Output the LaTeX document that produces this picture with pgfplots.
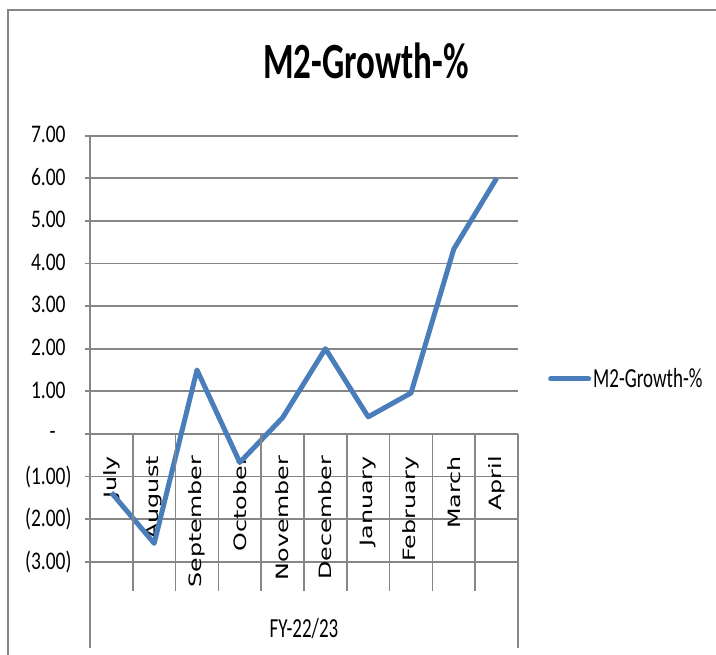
\documentclass[border=0pt]{standalone}
\usepackage{pgfplots}
\pgfplotsset{compat=1.18}
\usepackage{fontspec}
\setmainfont{Carlito}
\newfontfamily\dejavu{DejaVu Sans}
\definecolor{series}{HTML}{4A7EBB}
\definecolor{gridc}{HTML}{868686}
\newcommand\sy[2][1.4]{\scalebox{1}[#1]{#2}}
\newcommand\cl[1]{\scalebox{1}[1.4]{\rotatebox{90}{\dejavu\fontsize{17bp}{18bp}\selectfont #1}}}
\begin{document}
\begin{tikzpicture}[x=1bp,y=1bp]
\path[use as bounding box] (0,0) rectangle (716,655);
\draw[gridc, line width=1.8bp] (8,-20) -- (8,645) -- (740,645);
\begin{axis}[
  at={(90bp,93.3bp)}, anchor=south west,
  width=428bp, height=426bp, scale only axis,
  xmin=-0.5, xmax=9.5, ymin=-3, ymax=7,
  axis line style={draw=none},
  clip=false,
  xtick={0,...,9},
  xticklabels={\cl{July},\cl{August},\cl{September},\cl{October},\cl{November},\cl{December},\cl{January},\cl{February},\cl{March},\cl{April}},
  x tick style={draw=none},
  xticklabel style={anchor=north, inner sep=0pt, yshift=110.7bp},
  ytick={-3,-2,-1,0,1,2,3,4,5,6,7},
  yticklabels={\sy[1.3]{(3.00)},\sy[1.3]{(2.00)},\sy[1.3]{(1.00)},{\sy[1.3]{-}\phantom{0)}},\sy[1.3]{1.00}\phantom{)},\sy[1.3]{2.00}\phantom{)},\sy[1.3]{3.00}\phantom{)},\sy[1.3]{4.00}\phantom{)},\sy[1.3]{5.00}\phantom{)},\sy[1.3]{6.00}\phantom{)},\sy[1.3]{7.00}\phantom{)}},
  ytick pos=left, tick align=outside, major tick length=5bp,
  y tick style={gridc, line width=1.7bp},
  yticklabel style={anchor=east, inner sep=0pt, xshift=-13.3bp, font=\fontsize{19.5bp}{20bp}\selectfont},
  ymajorgrids, grid style={gridc, line width=1.7bp},
  title={\sy[1.45]{M2-Growth-\%}},
  title style={at={(axis description cs:0.645,1.121)}, anchor=base, inner sep=0pt, font=\bfseries\fontsize{35bp}{36bp}\selectfont},
  xlabel={\sy[1.45]{FY-22/23}},
  xlabel style={at={(axis description cs:0.5,-0.179)}, anchor=base, inner sep=0pt, font=\fontsize{19bp}{20bp}\selectfont},
  legend style={at={(rel axis cs:1.07,0.429)}, anchor=west, draw=none, fill=none, inner sep=0pt, font=\fontsize{19bp}{20bp}\selectfont},
  legend cell align=left,
  legend image code/.code={\draw[#1, line width=5bp, line cap=round] (0bp,0bp) -- (38bp,0bp);},
]
\addplot[series, line width=5bp, line join=round, mark=none] coordinates {
  (0,-1.38) (1,-2.57) (2,1.50) (3,-0.67) (4,0.38) (5,2.00) (6,0.40) (7,0.96) (8,4.34) (9,6.00)
};
\addlegendentry{\sy[1.45]{M2-Growth-\%}}
\draw[gridc, line width=1.7bp] (axis cs:-0.5,7) -- (axis cs:-0.5,-5.02);
\draw[gridc, line width=1.7bp] (axis cs:9.5,0) -- (axis cs:9.5,-5.02);
\draw[gridc, line width=1.7bp] (axis cs:0.5,0) -- (axis cs:0.5,-3.685);
\draw[gridc, line width=1.7bp] (axis cs:1.5,0) -- (axis cs:1.5,-3.685);
\draw[gridc, line width=1.7bp] (axis cs:2.5,0) -- (axis cs:2.5,-3.685);
\draw[gridc, line width=1.7bp] (axis cs:3.5,0) -- (axis cs:3.5,-3.685);
\draw[gridc, line width=1.7bp] (axis cs:4.5,0) -- (axis cs:4.5,-3.685);
\draw[gridc, line width=1.7bp] (axis cs:5.5,0) -- (axis cs:5.5,-3.685);
\draw[gridc, line width=1.7bp] (axis cs:6.5,0) -- (axis cs:6.5,-3.685);
\draw[gridc, line width=1.7bp] (axis cs:7.5,0) -- (axis cs:7.5,-3.685);
\draw[gridc, line width=1.7bp] (axis cs:8.5,0) -- (axis cs:8.5,-3.685);
\end{axis}
\end{tikzpicture}
\end{document}
